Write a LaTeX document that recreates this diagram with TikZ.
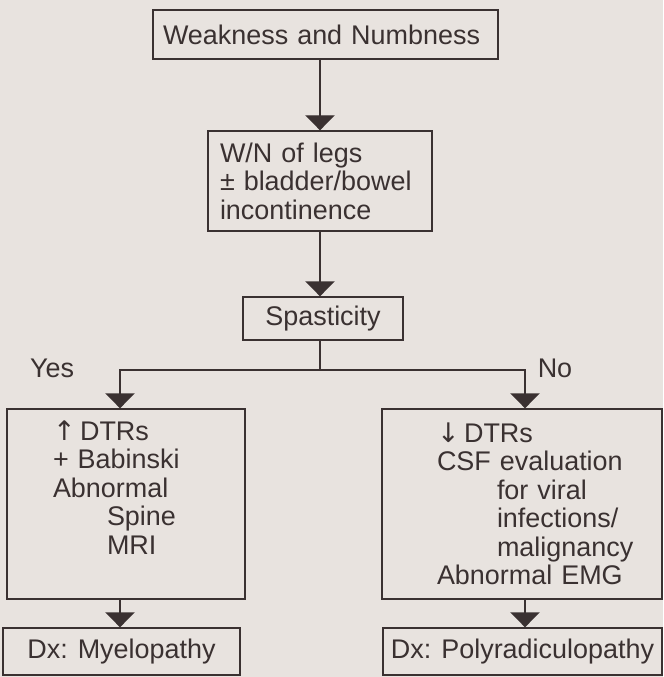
\documentclass[tikz,border=0pt]{standalone}
\usepackage{fontspec}
\setmainfont{Liberation Sans}
\newfontfamily\arrowfont{DejaVu Sans}
\usetikzlibrary{arrows.meta}
\definecolor{chartBg}{HTML}{E8E3DF}
\definecolor{chartInk}{HTML}{3A3131}
\newdimen\px
\px=0.03cm
\tikzset{
  box/.style={draw=chartInk, line width=1.2pt, text=chartInk, inner xsep=0pt, inner ysep=0pt,
    font=\fontsize{23}{24.3}\selectfont},
  lbl/.style={text=chartInk, inner sep=0pt, font=\fontsize{23}{24.3}\selectfont},
  link/.style={draw=chartInk, line width=1.2pt},
  arr/.style={link, -{Triangle[width=0.88cm,length=0.45cm]}},
}

\begin{document}
\begin{tikzpicture}[x=0.03cm, y=-0.03cm]
  \fill[chartBg] (0,0) rectangle (663,677);
  % top of the chart
  \node[box, align=left, text width=325\px, minimum width=345\px, minimum height=49\px]
    (weak) at (325.5,34.5) {Weakness and Numbness};
  \node[box, align=left, text width=200\px, minimum width=224\px, minimum height=100\px]
    (legs) at (320,181) {W/N of legs\\± bladder/bowel\\incontinence};
  \node[box, align=center, minimum width=160\px, minimum height=43\px]
    (spas) at (323,318.5) {Spasticity};
  % the two branches
  \node[box, align=left, text width=146\px, minimum width=238\px, minimum height=190\px]
    (upper) at (126,504)
    {{\arrowfont ↑}\,DTRs\\+ Babinski\\Abnormal\\\hspace*{54\px}Spine\\\hspace*{54\px}MRI\rule[-33\px]{0pt}{33\px}};
  \node[box, align=left, text width=170\px, minimum width=280\px, minimum height=190\px]
    (lower) at (522,504)
    {\mbox{{\arrowfont ↓}\,DTRs}\\\mbox{CSF evaluation}\\\mbox{\hspace*{60\px}for viral}\\\mbox{\hspace*{60\px}infections/}\\\mbox{\hspace*{60\px}malignancy}\\\mbox{Abnormal EMG}};
  \node[box, align=center, minimum width=237\px, minimum height=47\px]
    (myel) at (121.5,651.5) {Dx: Myelopathy};
  \node[box, align=center, minimum width=279\px, minimum height=47\px]
    (poly) at (522.5,651.5) {Dx: Polyradiculopathy};
  \node[lbl] (yes) at (52,368) {Yes};
  \node[lbl] (no) at (555,368) {No};

  \coordinate (fork) at (320,370);
  \coordinate (yesdrop) at (120,370);
  \coordinate (nodrop) at (525,370);

  \draw[arr] (weak.south -| legs.north) -- (legs.north);
  \draw[arr] (legs.south) -- (legs.south |- spas.north);
  \draw[link] (spas.south -| fork) -- (fork);
  \draw[arr] (fork) -- (yesdrop) -- (yesdrop |- upper.north);
  \draw[arr] (fork) -- (nodrop) -- (nodrop |- lower.north);
  \draw[arr] (upper.south -| yesdrop) -- (yesdrop |- myel.north);
  \draw[arr] (lower.south -| nodrop) -- (nodrop |- poly.north);
\end{tikzpicture}
\end{document}
